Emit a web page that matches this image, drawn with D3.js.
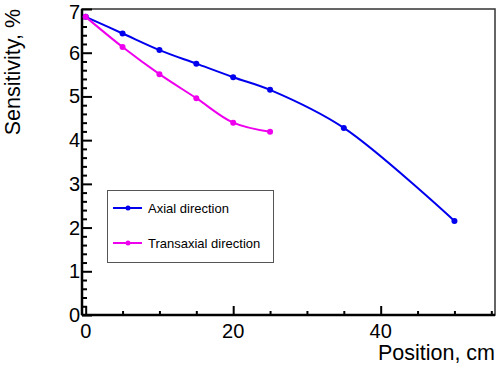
<!DOCTYPE html>
<html>
<head>
<meta charset="utf-8">
<script src="https://cdn.jsdelivr.net/npm/d3@7"></script>
<style>
  body { margin: 0; background: #fff; }
  text { font-family: "Liberation Sans", Arial, sans-serif; }
</style>
</head>
<body>
<script>
// data
const axialX = [0, 5, 10, 15, 20, 25, 35, 50];
const axialY = [6.82, 6.44, 6.06, 5.75, 5.44, 5.15, 4.28, 2.15];
const transX = [0, 5, 10, 15, 20, 25];
const transY = [6.82, 6.13, 5.51, 4.96, 4.40, 4.19];
const xMajor = [0, 20, 40];
const yMajor = [0, 1, 2, 3, 4, 5, 6, 7];

const W = 498, H = 366;
const m = { left: 82, right: 3, top: 9, bottom: 51 };

const svg = d3.select('body').append('svg')
  .attr('width', W).attr('height', H);

const x = d3.scaleLinear().domain([-0.5, 55.5]).range([m.left, W - m.right]);
const y = d3.scaleLinear().domain([0, 7]).range([H - m.bottom, m.top]);

// frame
svg.append('rect')
  .attr('x', m.left).attr('y', m.top)
  .attr('width', W - m.right - m.left).attr('height', H - m.bottom - m.top)
  .attr('fill', 'none').attr('stroke', '#333').attr('stroke-width', 1.5);

// x axis (ticks pointing up)
const xAxis = d3.axisTop(x).tickValues(xMajor).tickSize(9).tickFormat('');
const xMinor = d3.axisTop(x).tickValues(d3.range(0, 56, 5).filter(v => v % 20)).tickSize(4).tickFormat('');
[xAxis, xMinor].forEach(a => {
  svg.append('g').attr('transform', `translate(0,${H - m.bottom})`).call(a)
    .call(g => g.select('.domain').remove())
    .selectAll('line').attr('stroke', '#000').attr('stroke-width', 2);
});
svg.append('line')
  .attr('x1', m.left).attr('x2', W - m.right)
  .attr('y1', H - m.bottom).attr('y2', H - m.bottom)
  .attr('stroke', '#000').attr('stroke-width', 2.5);

svg.append('g').selectAll('text').data(xMajor).join('text')
  .attr('x', d => x(d)).attr('y', H - m.bottom + 23)
  .attr('text-anchor', 'middle').attr('font-size', 20)
  .text(d => d);

// y axis (ticks pointing right)
const yAxis = d3.axisRight(y).tickValues(yMajor).tickSize(10).tickFormat('');
const yMinor = d3.axisRight(y).tickValues(d3.range(0, 7.01, 0.2).filter(v => Math.abs(v - Math.round(v)) > 0.01)).tickSize(5).tickFormat('');
[yAxis, yMinor].forEach(a => {
  svg.append('g').attr('transform', `translate(${m.left},0)`).call(a)
    .call(g => g.select('.domain').remove())
    .selectAll('line').attr('stroke', '#000').attr('stroke-width', 2);
});
svg.append('line')
  .attr('x1', m.left).attr('x2', m.left)
  .attr('y1', m.top).attr('y2', H - m.bottom)
  .attr('stroke', '#000').attr('stroke-width', 2.5);

// top label is kept just inside the page
svg.append('g').selectAll('text').data(yMajor).join('text')
  .attr('x', m.left - 2).attr('y', d => Math.max(y(d) + 7, 18.5))
  .attr('text-anchor', 'end').attr('font-size', 20)
  .text(d => d);

// axis titles
svg.append('text')
  .attr('x', W - 3).attr('y', H - 6)
  .attr('text-anchor', 'end').attr('font-size', 21.5)
  .text('Position, cm');
svg.append('text')
  .attr('transform', `translate(20,${m.top}) rotate(-90)`)
  .attr('text-anchor', 'end').attr('font-size', 21.5)
  .text('Sensitivity, %');

// series
const series = [
  { name: 'Axial direction', xs: axialX, ys: axialY, color: '#0000ee' },
  { name: 'Transaxial direction', xs: transX, ys: transY, color: '#ee00ee' }
];

const line = d3.line()
  .x(d => x(d[0])).y(d => y(d[1]))
  .curve(d3.curveCatmullRom.alpha(0.5));

series.forEach(s => {
  const pts = s.xs.map((v, i) => [v, s.ys[i]]);
  svg.append('path').datum(pts)
    .attr('d', line).attr('fill', 'none')
    .attr('stroke', s.color).attr('stroke-width', 2);
  svg.append('g').selectAll('circle').data(pts).join('circle')
    .attr('cx', d => x(d[0])).attr('cy', d => y(d[1]))
    .attr('r', 3).attr('fill', s.color);
});

// legend
const lg = svg.append('g');
lg.append('rect')
  .attr('x', 107.5).attr('y', 190.5).attr('width', 166).attr('height', 72)
  .attr('fill', '#fff').attr('stroke', '#555').attr('stroke-width', 1);
series.forEach((s, i) => {
  const ly = 208 + i * 35;
  lg.append('line').attr('x1', 113).attr('x2', 142).attr('y1', ly).attr('y2', ly)
    .attr('stroke', s.color).attr('stroke-width', 2);
  lg.append('circle').attr('cx', 128).attr('cy', ly).attr('r', 2.5).attr('fill', s.color);
  lg.append('text').attr('x', 148).attr('y', ly + 4.5)
    .attr('font-size', 13).text(s.name);
});
</script>
</body>
</html>
